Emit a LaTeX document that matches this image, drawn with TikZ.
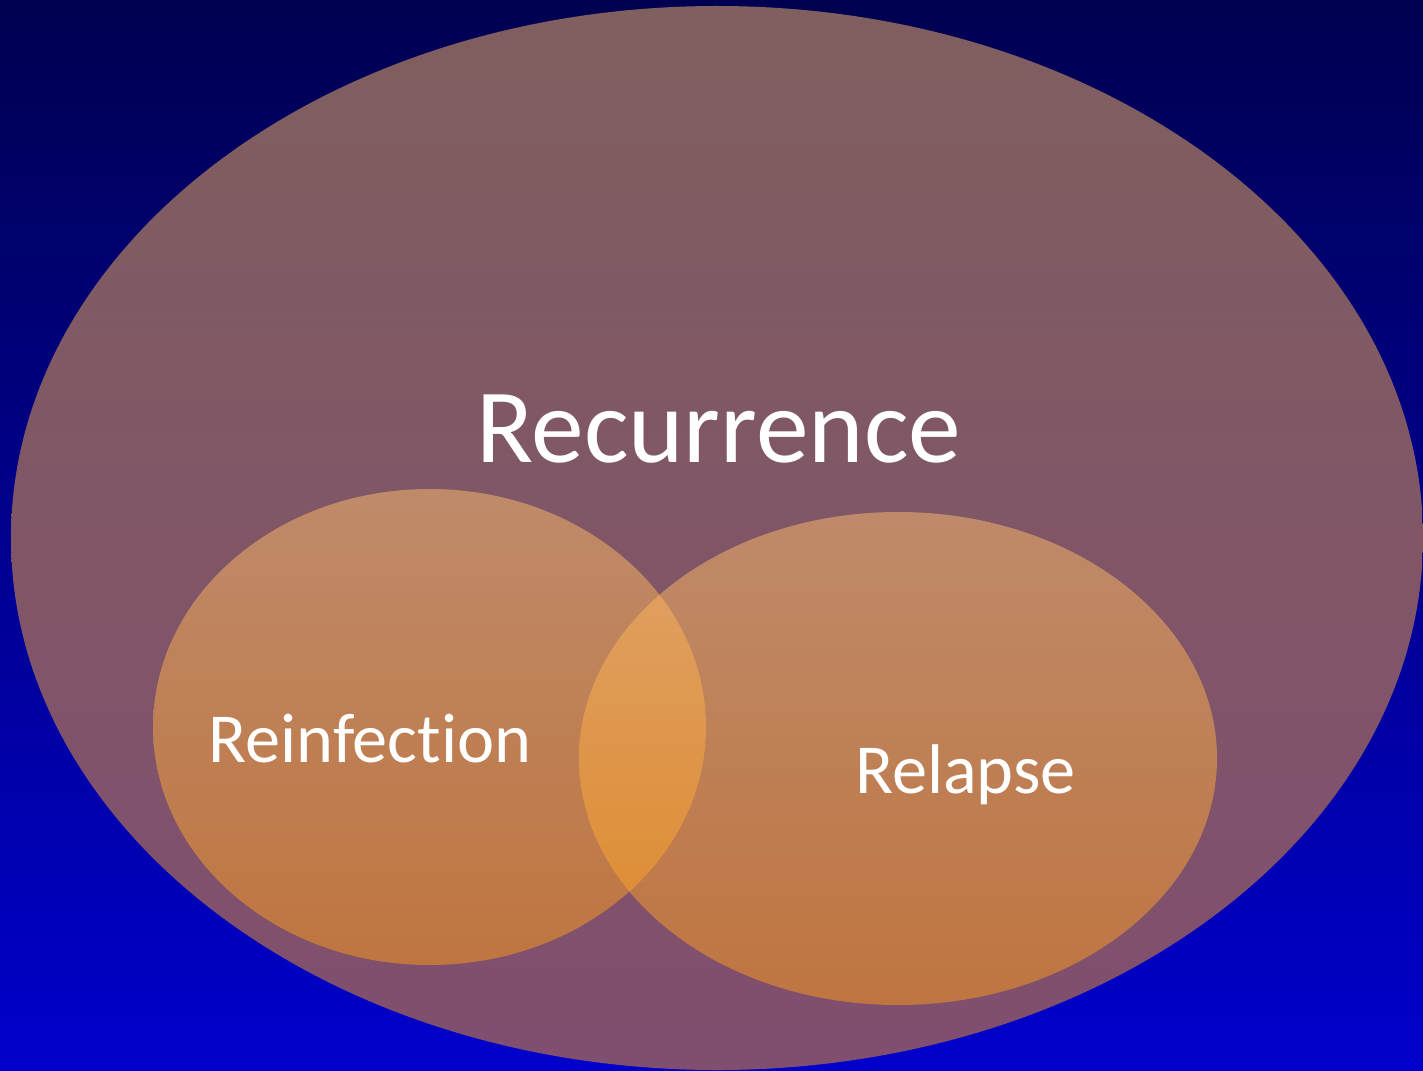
\documentclass[tikz,border=0pt]{standalone}
\usepackage{fontspec}
\setmainfont{Carlito}[Ligatures=NoCommon]
\definecolor{bgtop}{RGB}{0,0,80}
\definecolor{bgbot}{RGB}{0,0,204}
\definecolor{otop}{RGB}{255,190,110}
\definecolor{obot}{RGB}{255,156,20}
\tikzset{
  venn/.style={top color=otop,bottom color=obot,fill opacity=0.5},
  lbl/.style={text=white,anchor=base,inner sep=0pt}
}
\begin{document}
\begin{tikzpicture}
\useasboundingbox (0,0) rectangle (14.23,10.70);
\clip (0,0) rectangle (14.23,10.70);
% backdrop
\shade[top color=bgtop,bottom color=bgbot] (0,0) rectangle (14.23,10.70);
% outer set and the two inner sets
\shade[venn] (7.17,5.32) ellipse [x radius=7.06,y radius=5.32];
\shade[venn] (4.295,3.43) ellipse [x radius=2.765,y radius=2.38];
\shade[venn] (8.98,3.115) ellipse [x radius=3.19,y radius=2.465];
%\draw[help lines] (0,0) grid (14,10);
\node[lbl,font=\fontsize{30}{36}\selectfont] (recur) at (7.185,6.08) {Recurrence};
\node[lbl,font=\fontsize{20}{24}\selectfont] (reinf) at (3.70,3.08) {Reinfection};
\node[lbl,font=\fontsize{20}{24}\selectfont] (relap) at (9.655,2.77) {Relapse};
\end{tikzpicture}
\end{document}
